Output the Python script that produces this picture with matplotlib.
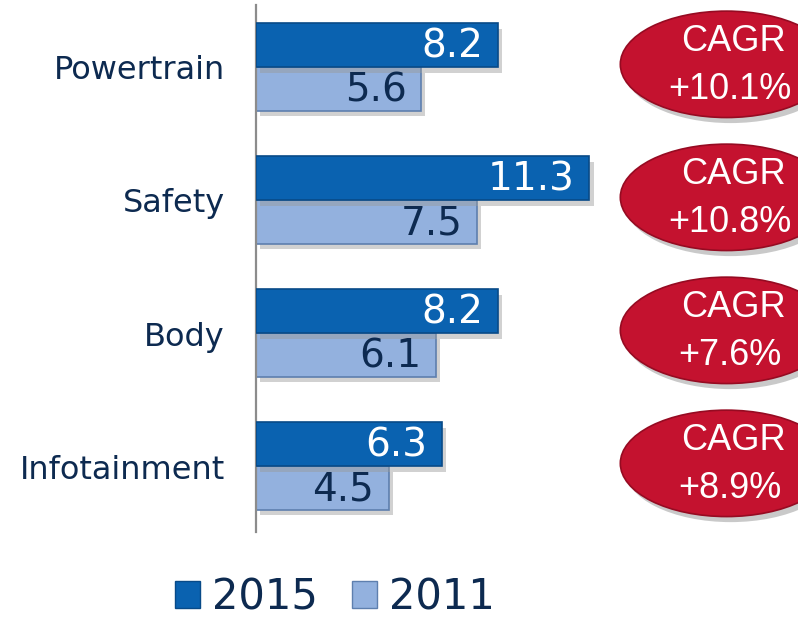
import matplotlib.pyplot as plt
from matplotlib.patches import Ellipse, Patch
import matplotlib.patheffects as pe

categories = ["Powertrain", "Safety", "Body", "Infotainment"]
values_2015 = [8.2, 11.3, 8.2, 6.3]
values_2011 = [5.6, 7.5, 6.1, 4.5]
cagr = ["+10.1%", "+10.8%", "+7.6%", "+8.9%"]

navy = "#0d2a50"
c2015 = "#0a62b0"
c2011 = "#93b1de"
red = "#c4122f"

fig = plt.figure(figsize=(7.98, 6.17), dpi=100)
W, H = 798, 617
# axes spans px x 256..798, y 5..532
ax = fig.add_axes([256 / W, 1 - 532 / H, (798 - 256) / W, (532 - 5) / H])
ax.set_xlim(0, (798 - 256) / 29.5)
ax.set_ylim(3.496, -0.466)

y = list(range(len(categories)))
h = 0.33
shadow = [pe.SimplePatchShadow(offset=(3, -4), shadow_rgbFace="#999999", alpha=0.45), pe.Normal()]
b1 = ax.barh([i - h / 2 for i in y], values_2015, height=h, color=c2015,
             edgecolor="#084a88", linewidth=1.2, path_effects=shadow, zorder=3)
b2 = ax.barh([i + h / 2 for i in y], values_2011, height=h, color=c2011,
             edgecolor="#5e7fae", linewidth=1.2, path_effects=shadow, zorder=2)

for i in y:
    ax.text(values_2015[i] - 0.5, i - h / 2 + 0.01, f"{values_2015[i]:.1f}", color="white",
            fontsize=28, ha="right", va="center", zorder=4)
    ax.text(values_2011[i] - 0.5, i + h / 2 + 0.01, f"{values_2011[i]:.1f}", color=navy,
            fontsize=28, ha="right", va="center", zorder=4)
    ax.text(-1.05, i + 0.03, categories[i], color=navy, fontsize=23, ha="right",
            va="center", clip_on=False)
    # CAGR ellipse
    ell = Ellipse((15.95, i - 0.02), 7.2, 0.8, facecolor=red, edgecolor="#960b22",
                  linewidth=1.2, clip_on=False, zorder=3,
                  path_effects=[pe.SimplePatchShadow(offset=(3, -4), shadow_rgbFace="#888888", alpha=0.45),
                                pe.Normal()])
    ax.add_patch(ell)
    ax.text(16.2, i - 0.19, "CAGR", color="white", fontsize=26, family="Liberation Sans",
            ha="center", va="center", zorder=4, clip_on=False)
    ax.text(16.05, i + 0.17, cagr[i], color="white", fontsize=26, family="Liberation Sans",
            ha="center", va="center", zorder=4, clip_on=False)

for s in ["top", "right", "bottom"]:
    ax.spines[s].set_visible(False)
ax.spines["left"].set_color("#8c8c8c")
ax.spines["left"].set_linewidth(1.6)
ax.set_xticks([])
ax.set_yticks([])

handles = [Patch(facecolor=c2015, edgecolor="#084a88"), Patch(facecolor=c2011, edgecolor="#5e7fae")]
fig.legend(handles, ["2015", "2011"], loc="center", bbox_to_anchor=(335 / W, 1 - 597 / H),
           ncol=2, frameon=False, fontsize=30, labelcolor=navy, handlelength=0.6,
           handleheight=0.6, handletextpad=0.3, columnspacing=0.8)

fig.savefig("out.png", dpi=100)
